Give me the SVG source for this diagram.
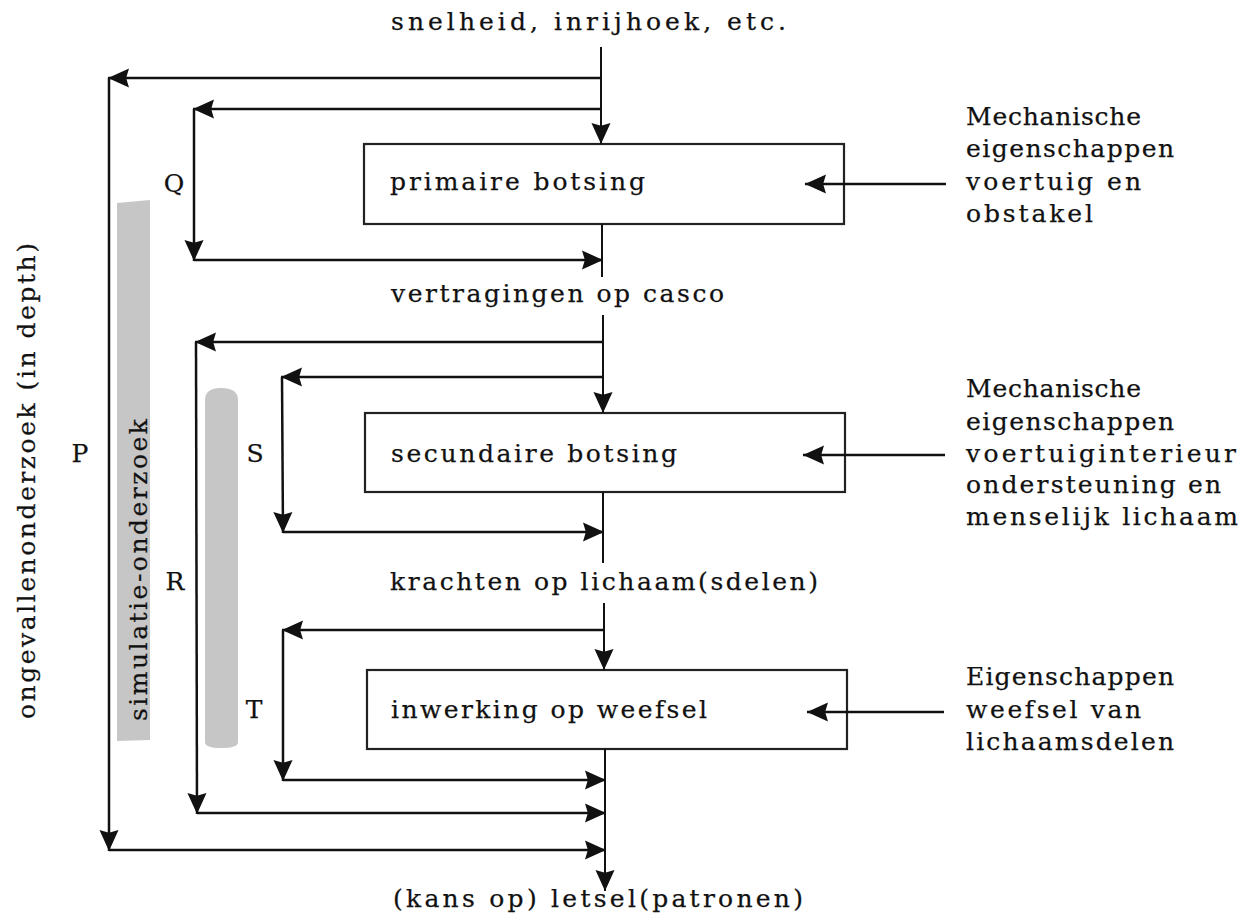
<svg xmlns="http://www.w3.org/2000/svg" width="1243" height="919" viewBox="0 0 1243 919">
<style>
  .t{font-family:"DejaVu Serif","Liberation Serif",serif;font-size:25px;fill:#111;stroke:#111;stroke-width:0.25}
  .box{fill:none;stroke:#222;stroke-width:2.2}
  .ln{fill:none;stroke:#111;stroke-width:2.5}
  .main{fill:none;stroke:#111;stroke-width:2}
  .bar{fill:#c6c6c6}
</style>
<defs>
  <marker id="ah" viewBox="0 0 22 22" refX="22" refY="11" markerWidth="22" markerHeight="21" markerUnits="userSpaceOnUse" orient="auto">
    <path d="M0,1 L22,11 L0,21 L3,11 Z" fill="#111"/>
  </marker>
</defs>
<rect width="1243" height="919" fill="#fff"/>

<!-- shaded bars -->
<g id="bar-simulatie">
  <path class="bar" d="M117,203 L150,200 L150,740 L117,741 Z"/>
  <text class="t" transform="translate(147,721) rotate(-90)" textLength="302" lengthAdjust="spacing">simulatie-onderzoek</text>
</g>
<g id="bar-inner">
  <path class="bar" d="M205,400 Q205,388 221,388 Q238,388 238,400 L238,742 Q238,748 221,748 Q205,748 205,742 Z"/>
</g>

<g id="label-ongevallen">
  <text class="t" transform="translate(35,719) rotate(-90)" textLength="476" lengthAdjust="spacing">ongevallenonderzoek (in depth)</text>
</g>

<g id="input-top"><text class="t" x="391" y="30" textLength="395" lengthAdjust="spacing">snelheid, inrijhoek, etc.</text></g>

<g id="node-primaire">
  <rect class="box" x="364" y="144" width="480" height="80"/>
  <text class="t" x="390" y="190" textLength="255" lengthAdjust="spacing">primaire botsing</text>
</g>
<g id="label-vertragingen"><text class="t" x="391" y="302" textLength="333" lengthAdjust="spacing">vertragingen op casco</text></g>
<g id="node-secundaire">
  <rect class="box" x="365" y="413" width="480" height="79"/>
  <text class="t" x="391" y="462" textLength="286" lengthAdjust="spacing">secundaire botsing</text>
</g>
<g id="label-krachten"><text class="t" x="390" y="590" textLength="428" lengthAdjust="spacing">krachten op lichaam(sdelen)</text></g>
<g id="node-inwerking">
  <rect class="box" x="367" y="670" width="480" height="79"/>
  <text class="t" x="391" y="718" textLength="316" lengthAdjust="spacing">inwerking op weefsel</text>
</g>
<g id="label-letsel"><text class="t" x="393" y="907" textLength="410" lengthAdjust="spacing">(kans op) letsel(patronen)</text></g>

<g id="input-1">
  <text class="t" x="966" y="125" textLength="175" lengthAdjust="spacing">Mechanische</text>
  <text class="t" x="966" y="157" textLength="208" lengthAdjust="spacing">eigenschappen</text>
  <text class="t" x="966" y="190" textLength="175" lengthAdjust="spacing">voertuig en</text>
  <text class="t" x="966" y="222" textLength="127" lengthAdjust="spacing">obstakel</text>
</g>
<g id="input-2">
  <text class="t" x="966" y="397" textLength="175" lengthAdjust="spacing">Mechanische</text>
  <text class="t" x="966" y="430" textLength="208" lengthAdjust="spacing">eigenschappen</text>
  <text class="t" x="966" y="462" textLength="270" lengthAdjust="spacing">voertuiginterieur</text>
  <text class="t" x="966" y="493" textLength="255" lengthAdjust="spacing">ondersteuning en</text>
  <text class="t" x="966" y="525" textLength="272" lengthAdjust="spacing">menselijk lichaam</text>
</g>
<g id="input-3">
  <text class="t" x="966" y="685" textLength="208" lengthAdjust="spacing">Eigenschappen</text>
  <text class="t" x="966" y="718" textLength="175" lengthAdjust="spacing">weefsel van</text>
  <text class="t" x="966" y="750" textLength="208" lengthAdjust="spacing">lichaamsdelen</text>
</g>

<g id="loop-labels">
  <text class="t" x="174" y="192" text-anchor="middle">Q</text>
  <text class="t" x="80" y="462" text-anchor="middle">P</text>
  <text class="t" x="255" y="462" text-anchor="middle">S</text>
  <text class="t" x="175" y="590" text-anchor="middle">R</text>
  <text class="t" x="254" y="718" text-anchor="middle">T</text>
</g>

<g id="connectors">
  <!-- main flow -->
  <line class="main" x1="601" y1="47" x2="601" y2="144" marker-end="url(#ah)"/>
  <line class="main" x1="602" y1="224" x2="602" y2="277"/>
  <line class="main" x1="603" y1="315" x2="603" y2="413" marker-end="url(#ah)"/>
  <line class="main" x1="603" y1="492" x2="603" y2="563"/>
  <line class="main" x1="604" y1="603" x2="604" y2="670" marker-end="url(#ah)"/>
  <line class="main" x1="605" y1="749" x2="605" y2="891" marker-end="url(#ah)"/>
  <!-- P loop -->
  <line class="ln" x1="601" y1="78" x2="108" y2="78" marker-end="url(#ah)"/>
  <line class="ln" x1="109" y1="78" x2="109" y2="851" marker-end="url(#ah)"/>
  <line class="ln" x1="109" y1="850" x2="606" y2="850" marker-end="url(#ah)"/>
  <!-- Q loop -->
  <line class="ln" x1="601" y1="109" x2="193" y2="109" marker-end="url(#ah)"/>
  <line class="ln" x1="194" y1="109" x2="194" y2="261" marker-end="url(#ah)"/>
  <line class="ln" x1="194" y1="260" x2="603" y2="260" marker-end="url(#ah)"/>
  <!-- R loop -->
  <line class="ln" x1="603" y1="342" x2="195" y2="342" marker-end="url(#ah)"/>
  <line class="ln" x1="196" y1="342" x2="197" y2="814" marker-end="url(#ah)"/>
  <line class="ln" x1="197" y1="813" x2="606" y2="813" marker-end="url(#ah)"/>
  <!-- S loop -->
  <line class="ln" x1="603" y1="377" x2="281" y2="377" marker-end="url(#ah)"/>
  <line class="ln" x1="282" y1="377" x2="283" y2="533" marker-end="url(#ah)"/>
  <line class="ln" x1="283" y1="532" x2="604" y2="532" marker-end="url(#ah)"/>
  <!-- T loop -->
  <line class="ln" x1="604" y1="630" x2="282" y2="630" marker-end="url(#ah)"/>
  <line class="ln" x1="283" y1="630" x2="283" y2="781" marker-end="url(#ah)"/>
  <line class="ln" x1="283" y1="780" x2="606" y2="780" marker-end="url(#ah)"/>
  <!-- external inputs -->
  <line class="ln" x1="946" y1="184" x2="805" y2="184" marker-end="url(#ah)"/>
  <line class="ln" x1="945" y1="455" x2="803" y2="455" marker-end="url(#ah)"/>
  <line class="ln" x1="944" y1="712" x2="807" y2="712" marker-end="url(#ah)"/>
</g>
</svg>
